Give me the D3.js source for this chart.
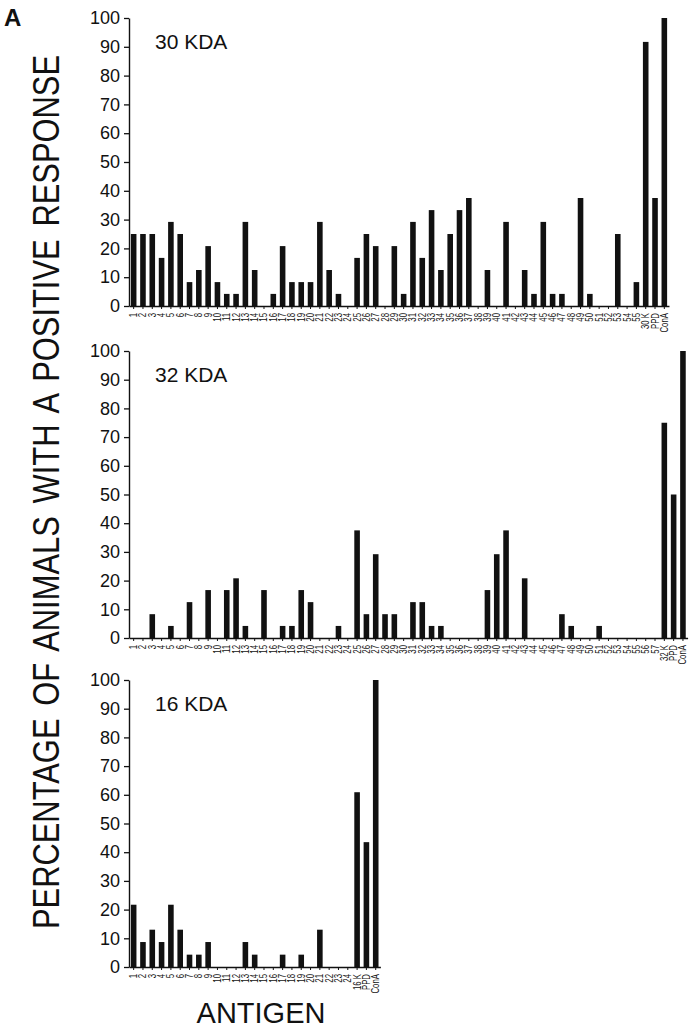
<!DOCTYPE html>
<html>
<head>
<meta charset="utf-8">
<script src="https://cdn.jsdelivr.net/npm/d3@7"></script>
<style>
  html, body { margin: 0; padding: 0; background: #fff; }
  svg { display: block; }
  text { font-family: "Liberation Sans", Arial, Helvetica, sans-serif; fill: #111; }
</style>
</head>
<body>
<svg id="chart" width="699" height="1030"></svg>
<script>
// ---- Data ----
const nums = n => Array.from({length: n}, (_, i) => String(i + 1));
const categories30 = nums(55).concat(["30 K", "PPD", "ConA"]);
const values30 = [25, 25, 25, 16.7, 29.2, 25, 8.3, 12.5, 20.8, 8.3,
                  4.2, 4.2, 29.2, 12.5, 0, 4.2, 20.8, 8.3, 8.3, 8.3,
                  29.2, 12.5, 4.2, 0, 16.7, 25, 20.8, 0, 20.8, 4.2,
                  29.2, 16.7, 33.3, 12.5, 25, 33.3, 37.5, 0, 12.5, 0,
                  29.2, 0, 12.5, 4.2, 29.2, 4.2, 4.2, 0, 37.5, 4.2,
                  0, 0, 25, 0, 8.3, 91.7, 37.5, 100];

const categories32 = nums(57).concat(["32 K", "PPD", "ConA"]);
const values32 = [0, 0, 8.3, 0, 4.2, 0, 12.5, 0, 16.7, 0,
                  16.7, 20.8, 4.2, 0, 16.7, 0, 4.2, 4.2, 16.7, 12.5,
                  0, 0, 4.2, 0, 37.5, 8.3, 29.2, 8.3, 8.3, 0,
                  12.5, 12.5, 4.2, 4.2, 0, 0, 0, 0, 16.7, 29.2,
                  37.5, 0, 20.8, 0, 0, 0, 8.3, 4.2, 0, 0,
                  4.2, 0, 0, 0, 0, 0, 0, 75, 50, 100];

const categories16 = nums(24).concat(["16 K", "PPD", "ConA"]);
const values16 = [21.7, 8.7, 13.0, 8.7, 21.7, 13.0, 4.3, 4.3, 8.7, 0,
                  0, 0, 8.7, 4.3, 0, 0, 4.3, 0, 4.3, 0,
                  13.0, 0, 0, 0, 60.9, 43.5, 100];

const panelTitles = ["30 KDA", "32 KDA", "16 KDA"];
const yTicks = [0, 10, 20, 30, 40, 50, 60, 70, 80, 90, 100];
const yTitle = "PERCENTAGE OF ANIMALS WITH A POSITIVE RESPONSE";
const xTitle = "ANTIGEN";
const panelLetter = "A";

// ---- Layout ----
const svg = d3.select("#chart");
const x0 = 129, step = 9.31;
const panels = [
  {cats: categories30, vals: values30, title: panelTitles[0], top: 18, bottom: 306},
  {cats: categories32, vals: values32, title: panelTitles[1], top: 351, bottom: 638},
  {cats: categories16, vals: values16, title: panelTitles[2], top: 680, bottom: 967}
];

panels.forEach(p => {
  const g = svg.append("g");
  const x = d3.scaleBand().domain(p.cats)
      .range([x0, x0 + step * p.cats.length])
      .paddingInner(0.4).paddingOuter(0.2);
  const y = d3.scaleLinear().domain([0, 100]).range([p.bottom, p.top]);

  g.selectAll("rect.bar").data(p.vals).enter().append("rect")
    .attr("class", "bar")
    .attr("x", (d, i) => x(p.cats[i]))
    .attr("width", x.bandwidth())
    .attr("y", d => y(d))
    .attr("height", d => y(0) - y(d))
    .attr("fill", "#111");

  const ya = g.append("g").attr("transform", `translate(${x0},0)`)
    .call(d3.axisLeft(y).tickValues(yTicks).tickSize(5).tickPadding(4).tickSizeOuter(0));
  ya.select(".domain").attr("stroke", "#111").attr("stroke-width", 1.4);
  ya.selectAll(".tick line").attr("stroke", "#111").attr("stroke-width", 1.3);
  ya.selectAll(".tick text").style("font-size", "18px").attr("fill", "#111");

  const xa = g.append("g").attr("transform", `translate(0,${p.bottom})`)
    .call(d3.axisBottom(x).tickSize(3).tickSizeOuter(0).tickPadding(2));
  xa.select(".domain").attr("stroke", "#111").attr("stroke-width", 1.4);
  xa.selectAll(".tick line").attr("stroke", "#111").attr("stroke-width", 1);
  xa.selectAll(".tick text")
    .style("font-size", "10px").attr("fill", "#111")
    .attr("text-anchor", "end")
    .attr("transform", "rotate(-90) scale(0.78,1)")
    .attr("x", -9).attr("y", 0).attr("dy", "0.35em");

  g.append("text").attr("x", 155).attr("y", p.top + 31)
    .style("font-size", "21px").text(p.title);
});

svg.append("text")
  .attr("transform", "translate(59,492) rotate(-90) scale(0.835,1)")
  .attr("text-anchor", "middle")
  .style("font-size", "37px").style("word-spacing", "5px").text(yTitle);

svg.append("text").attr("x", 261).attr("y", 1023)
  .attr("text-anchor", "middle").style("font-size", "29px").text(xTitle);

svg.append("text").attr("x", 4).attr("y", 26)
  .style("font-size", "24px").style("font-weight", "bold").text(panelLetter);
</script>
</body>
</html>
